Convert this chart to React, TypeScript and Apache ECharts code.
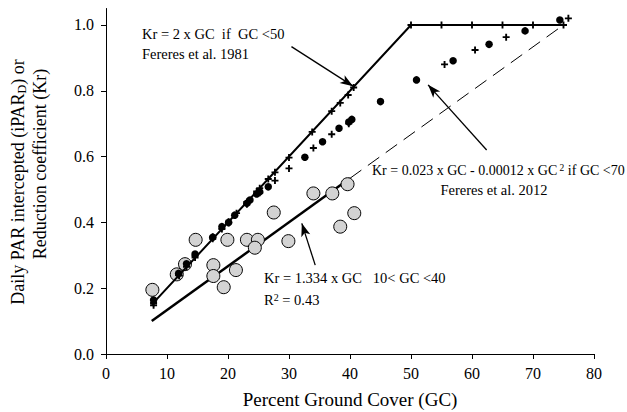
import React, { useEffect, useRef } from "react";
import * as echarts from "echarts";

// Fereres et al. 1981 model line (GC, Kr)
const model1981Line: [number, number][] = [[7.5, 0.15], [50, 1.0], [75, 1.0]];
// Regression line Kr = 1.334 x GC (solid) and its dashed extension
const regressionLine: [number, number][] = [[7.5, 0.1], [40, 0.534]];
const regressionExt: [number, number][] = [[40, 0.534], [75, 1.0]];

// Crosses lying on the 1981 line
const crosses1981: [number, number][] = [
  [7.8, 0.155], [11.9, 0.24], [13.2, 0.265], [14.6, 0.293], [17.5, 0.35], [19.0, 0.38],
  [20.1, 0.402], [21.4, 0.428], [23.1, 0.462], [24.7, 0.494], [25.2, 0.504], [26.6, 0.532],
  [27.7, 0.552], [30.0, 0.597], [33.8, 0.675], [37.0, 0.738], [38.4, 0.763], [39.7, 0.787],
  [40.6, 0.81], [50, 1.0], [55, 1.0], [60, 1.0], [65, 1.0], [70, 1.0], [75, 1.0],
];
// Crosses from the 2012 model
const crosses2012: [number, number][] = [
  [7.8, 0.148], [12.0, 0.238], [14.6, 0.298], [17.5, 0.356], [20.1, 0.398], [23.1, 0.455],
  [25.2, 0.49], [27.7, 0.527], [30.0, 0.564], [34.0, 0.626], [37.0, 0.668], [39.8, 0.7],
  [55.5, 0.88], [60.5, 0.924], [65.6, 0.963], [75.8, 1.02],
];
// Black filled dots
const blackDots: [number, number][] = [
  [7.8, 0.164], [11.9, 0.245], [13.2, 0.274], [14.6, 0.304], [17.5, 0.355], [19.0, 0.387],
  [20.1, 0.4], [21.1, 0.422], [23.1, 0.458], [23.6, 0.468], [24.7, 0.486], [25.2, 0.493],
  [26.6, 0.508], [32.6, 0.598], [35.5, 0.645], [38.2, 0.686], [39.8, 0.705], [40.3, 0.713],
  [45.0, 0.767], [50.9, 0.833], [56.9, 0.891], [62.8, 0.941], [68.7, 0.982], [74.4, 1.015],
];
// Grey measured circles
const greyCircles: [number, number][] = [
  [7.6, 0.195], [11.6, 0.242], [12.95, 0.273], [14.7, 0.347], [17.6, 0.27], [17.6, 0.237],
  [19.3, 0.203], [19.9, 0.347], [21.3, 0.255], [23.1, 0.347], [24.9, 0.347], [24.4, 0.323],
  [27.5, 0.43], [29.9, 0.343], [34.0, 0.488], [37.1, 0.488], [39.6, 0.516], [38.4, 0.387],
  [40.7, 0.428],
];

const xTicks = [0, 10, 20, 30, 40, 50, 60, 70, 80];
const yTicks = [0, 0.2, 0.4, 0.6, 0.8, 1.0];

// Annotation arrows: [from, to] in data coordinates
const arrows: [[number, number], [number, number]][] = [
  [[30.4, 0.934], [40.5, 0.814]],
  [[62.4, 0.62], [52.8, 0.818]],
  [[34.3, 0.27], [32.1, 0.397]],
];

const FONT = "'Liberation Serif', 'Times New Roman', serif";
const PLUS = "path://M2.2,0H3.8V2.2H6V3.8H3.8V6H2.2V3.8H0V2.2H2.2Z";

export default function App() {
  const ref = useRef<HTMLDivElement>(null);
  useEffect(() => {
    if (!ref.current) return;
    const chart = echarts.init(ref.current, null, { renderer: "svg" });
    const annFont = { fontFamily: FONT, fontSize: 14.5, fill: "#000" };
    chart.setOption({
      animation: false,
      grid: { left: 106, right: 33, top: 8.5, bottom: 58, containLabel: false, outerBoundsMode: "none" },
      xAxis: {
        type: "value",
        min: 0,
        max: 80,
        interval: 10,
        name: "Percent Ground Cover (GC)",
        nameLocation: "middle",
        nameGap: 36,
        nameTextStyle: { fontFamily: FONT, fontSize: 19, color: "#000" },
        axisLine: { lineStyle: { color: "#000", width: 1 } },
        axisTick: { length: 5, lineStyle: { color: "#000" }, customValues: xTicks },
        axisLabel: { fontFamily: FONT, fontSize: 16, color: "#000", margin: 11, customValues: xTicks },
        splitLine: { show: false },
      },
      yAxis: {
        type: "value",
        min: 0,
        max: 1.05,
        interval: 0.2,
        axisLine: { show: true, lineStyle: { color: "#000", width: 1 } },
        axisTick: { show: true, length: 5, lineStyle: { color: "#000" }, customValues: yTicks },
        axisLabel: {
          fontFamily: FONT, fontSize: 16, color: "#000", margin: 12,
          customValues: yTicks,
          formatter: (v: number) => v.toFixed(1),
        },
        splitLine: { show: false },
      },
      series: [
        {
          type: "line",
          data: regressionLine,
          symbol: "none",
          lineStyle: { color: "#000", width: 2.5 },
          z: 1,
          silent: true,
        },
        {
          type: "line",
          data: regressionExt,
          symbol: "none",
          lineStyle: { color: "#000", width: 1, type: [14, 8] },
          z: 1,
          silent: true,
        },
        {
          type: "scatter",
          data: greyCircles,
          symbol: "circle",
          symbolSize: 13,
          itemStyle: { color: "#d3d3d3", borderColor: "#000", borderWidth: 1, opacity: 1 },
          z: 2,
          silent: true,
        },
        {
          type: "line",
          data: model1981Line,
          symbol: "none",
          lineStyle: { color: "#000", width: 2 },
          z: 3,
          silent: true,
        },
        {
          type: "line",
          data: [],
          symbol: "none",
          z: 6,
          silent: true,
          markLine: {
            silent: true,
            animation: false,
            label: { show: false },
            lineStyle: { color: "#000", width: 1.3, type: "solid" },
            data: arrows.map(([a, b]) => [
              { coord: a, symbol: "none" },
              { coord: b, symbol: "arrow", symbolSize: [7, 13] },
            ]),
          },
        },
        {
          type: "scatter",
          data: blackDots,
          symbol: "circle",
          symbolSize: 7.5,
          itemStyle: { color: "#000", opacity: 1 },
          z: 4,
          silent: true,
        },
        {
          type: "scatter",
          data: crosses1981,
          symbol: PLUS,
          symbolSize: 7,
          itemStyle: { color: "#000", opacity: 1 },
          z: 5,
          silent: true,
        },
        {
          type: "scatter",
          data: crosses2012,
          symbol: PLUS,
          symbolSize: 7,
          itemStyle: { color: "#000", opacity: 1 },
          z: 5,
          silent: true,
        },
      ],
      graphic: [
        {
          type: "text", x: 18, y: 182, rotation: Math.PI / 2,
          style: {
            text: "{a|Daily PAR intercepted (iPAR}{s|D}{a|) or}",
            align: "center", verticalAlign: "middle",
            rich: {
              a: { fontFamily: FONT, fontSize: 18, fill: "#000" },
              s: { fontFamily: FONT, fontSize: 12, fill: "#000", verticalAlign: "bottom", padding: [8, 0, 0, 0] },
            },
          },
        },
        {
          type: "text", rotation: Math.PI / 2,
          x: 40, y: 164,
          style: {
            text: "Reduction coefficient (Kr)",
            fontFamily: FONT, fontSize: 18, fill: "#000",
            align: "center", verticalAlign: "middle",
          },
        },
        { type: "text", x: 142, y: 34, style: { ...annFont, text: "Kr = 2 x GC  if  GC <50", verticalAlign: "middle" } },
        { type: "text", x: 142, y: 54, style: { ...annFont, text: "Fereres et al. 1981", verticalAlign: "middle" } },
        {
          type: "text", x: 372, y: 170,
          style: {
            text: "{a|Kr = 0.023 x GC - 0.00012 x GC}{s| 2}{a| if GC <70}",
            verticalAlign: "middle",
            rich: {
              a: { fontFamily: FONT, fontSize: 14, fill: "#000" },
              s: { fontFamily: FONT, fontSize: 9.5, fill: "#000", verticalAlign: "top" },
            },
          },
        },
        { type: "text", x: 494, y: 190, style: { ...annFont, text: "Fereres et al. 2012", align: "center", verticalAlign: "middle" } },
        { type: "text", x: 264, y: 278, style: { ...annFont, text: "Kr = 1.334 x GC   10< GC <40", verticalAlign: "middle" } },
        {
          type: "text", x: 264, y: 300,
          style: {
            text: "{a|R}{s|2}{a| = 0.43}",
            verticalAlign: "middle",
            rich: {
              a: { fontFamily: FONT, fontSize: 14.5, fill: "#000" },
              s: { fontFamily: FONT, fontSize: 10, fill: "#000", verticalAlign: "top" },
            },
          },
        },
      ],
    });
    return () => chart.dispose();
  }, []);
  return <div ref={ref} style={{ position: "absolute", left: 0, top: 0, width: 627, height: 412 }} />;
}
